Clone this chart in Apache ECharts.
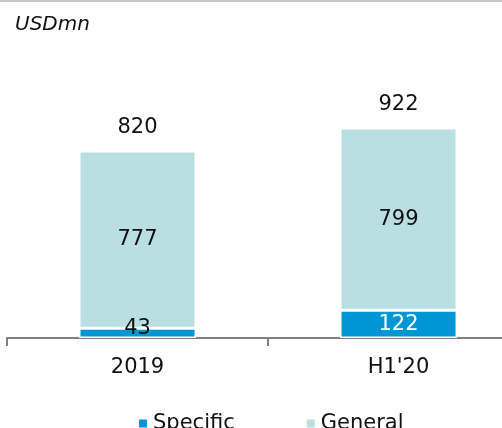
<!DOCTYPE html>
<html>
<head>
<meta charset="utf-8">
<script src="https://cdn.jsdelivr.net/npm/echarts@6/dist/echarts.min.js"></script>
<style>
  html, body { margin: 0; padding: 0; background: #fff; }
  #chart { width: 502px; height: 428px; }
</style>
</head>
<body>
<div id="chart"></div>
<script>
// Provisions by type, USD mn
const categories = ['2019', "H1'20"];
const specific = [43, 122];
const general = [777, 799];
const totals = [820, 922];

const FONT = 'DejaVu Sans, Verdana, sans-serif';
const FS = 21;
const chart = echarts.init(document.getElementById('chart'), null, { renderer: 'canvas' });

chart.setOption({
  animation: false,
  textStyle: { fontFamily: FONT },
  graphic: [
    { type: 'rect', shape: { x: 0, y: 0, width: 502, height: 2 }, style: { fill: '#c8c8c8' } },
    { type: 'text', left: 15, top: 15, style: { text: 'USDmn', font: 'italic 20px ' + FONT, fill: '#111' } }
  ],
  legend: {
    data: ['Specific', 'General'],
    top: 408,
    left: 132,
    icon: 'rect',
    itemWidth: 10,
    itemHeight: 10,
    itemGap: 70,
    textStyle: { fontSize: FS, color: '#111', fontFamily: FONT }
  },
  // the plot runs past the right edge, so the second category is cut off
  grid: { left: 7, width: 522, top: 110, bottom: 90, outerBoundsMode: 'none', containLabel: false },
  xAxis: {
    type: 'category',
    data: categories,
    axisLine: { lineStyle: { color: '#7f7f7f', width: 2 } },
    axisTick: { show: true, length: 8, lineStyle: { color: '#7f7f7f', width: 2 } },
    axisLabel: { fontSize: FS, color: '#111', margin: 19, fontFamily: FONT }
  },
  yAxis: {
    type: 'value', min: 0, max: 1000, show: false, splitLine: { show: false }
  },
  series: [
    {
      name: 'Specific', type: 'bar', stack: 'p', barWidth: 117,
      // the 2019 segment is too short for white text, so its label is dark and raised
      data: specific.map((v, i) => i === 0
        ? { value: v, label: { color: '#111', offset: [0, -5] } }
        : v),
      itemStyle: { color: '#0096d6', borderColor: '#fff', borderWidth: 1.5 },
      label: { show: true, position: 'inside', fontSize: FS, fontFamily: FONT, color: '#fff' }
    },
    {
      name: 'General', type: 'bar', stack: 'p', data: general, barWidth: 117,
      itemStyle: { color: '#b9dfe3', borderColor: '#fff', borderWidth: 1.5 },
      label: { show: true, position: 'inside', fontSize: FS, color: '#111', fontFamily: FONT }
    },
    {
      name: 'Total', type: 'bar', data: totals, barWidth: 117, barGap: '-100%',
      itemStyle: { color: 'rgba(0,0,0,0)' }, silent: true, z: 1,
      label: { show: true, position: 'top', distance: 13, fontSize: FS, color: '#111', fontFamily: FONT }
    }
  ]
});
</script>
</body>
</html>
